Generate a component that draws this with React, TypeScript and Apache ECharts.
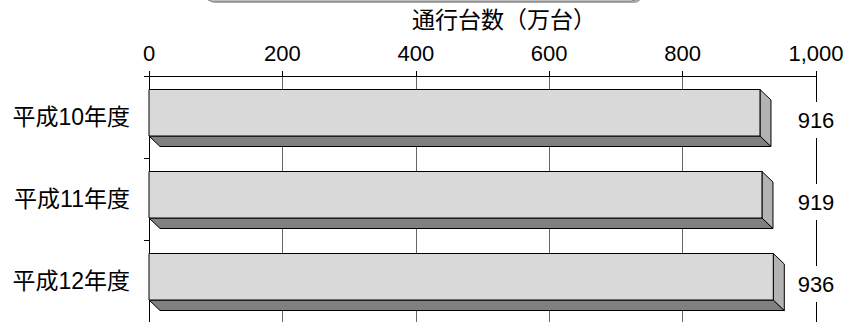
import React, { useEffect, useRef } from "react";
import * as echarts from "echarts";

const categories = ["平成10年度", "平成11年度", "平成12年度"];
const values = [916, 919, 936];
const axisMin = 0;
const axisMax = 1000;
const axisInterval = 200;
const axisTitle = "通行台数（万台）";

const FONT = "'Liberation Sans', 'Noto Sans CJK JP', Arial, sans-serif";

export default function App() {
  const ref = useRef<HTMLDivElement>(null);
  useEffect(() => {
    document.body.style.margin = "0";
    const chart = echarts.init(ref.current!, null, { renderer: "svg" });
    const data = values.map((v, i) => [v, i]);
    chart.setOption({
      animation: false,
      backgroundColor: "#ffffff",
      grid: { left: 149, top: 76, width: 667, height: 248, containLabel: false },
      graphic: [
        {
          type: "rect",
          shape: { x: 207, y: -30, width: 435, height: 33, r: 8 },
          style: { fill: "#a8a8a8" },
          z: 1,
        },
        {
          type: "rect",
          shape: { x: 204, y: -32, width: 435, height: 33, r: 8 },
          style: { fill: "#ffffff", stroke: "#7f7f7f", lineWidth: 1 },
          z: 2,
        },
        {
          type: "text",
          x: 504,
          y: 20,
          style: {
            text: axisTitle,
            font: `23px ${FONT}`,
            fill: "#000",
            align: "center",
            verticalAlign: "middle",
          },
        },
      ],
      xAxis: {
        type: "value",
        position: "top",
        min: axisMin,
        max: axisMax,
        interval: axisInterval,
        axisLine: { show: true, lineStyle: { color: "#000", width: 1 } },
        axisTick: { show: true, length: 5, inside: false, lineStyle: { color: "#000" } },
        axisLabel: {
          margin: 12,
          fontSize: 22,
          fontFamily: FONT,
          color: "#000",
          formatter: (v: number) => v.toLocaleString("en-US"),
        },
        splitLine: {
          show: true,
          lineStyle: { color: ["#000", "#666", "#666", "#666", "#666", "#000"], width: 1 },
        },
      },
      yAxis: {
        type: "category",
        data: categories,
        inverse: true,
        axisLine: { show: true, lineStyle: { color: "#000", width: 1 } },
        axisTick: { show: true, length: 5, inside: false, lineStyle: { color: "#000" } },
        axisLabel: {
          margin: 19,
          fontSize: 23,
          fontFamily: FONT,
          color: "#000",
          padding: [9, 0, 0, 0],
        },
        splitLine: { show: false },
      },
      series: [
        {
          type: "custom",
          encode: { x: 0, y: 1 },
          data,
          clip: false,
          renderItem: (params: any, api: any) => {
            const v = api.value(0);
            const ci = api.value(1);
            const start = api.coord([axisMin, ci]);
            const end = api.coord([v, ci]);
            const edge = api.coord([axisMax, ci]);
            const c = start[1];
            const top = c - 27.5;
            const bot = c + 19;
            const dx = 11;
            const dy = 10.5;
            const x0 = start[0];
            const x1 = end[0];
            const ly = c + 3;
            return {
              type: "group",
              children: [
                {
                  type: "polygon",
                  shape: {
                    points: [
                      [x0, bot],
                      [x1, bot],
                      [x1 + dx, bot + dy],
                      [x0 + dx, bot + dy],
                    ],
                  },
                  style: { fill: "#808080", stroke: "#000", lineWidth: 1 },
                },
                {
                  type: "polygon",
                  shape: {
                    points: [
                      [x1, top],
                      [x1 + dx, top + dy],
                      [x1 + dx, bot + dy],
                      [x1, bot],
                    ],
                  },
                  style: { fill: "#b3b3b3", stroke: "#000", lineWidth: 1 },
                },
                {
                  type: "rect",
                  shape: { x: x0, y: top, width: x1 - x0, height: bot - top },
                  style: { fill: "#d9d9d9", stroke: "#000", lineWidth: 1 },
                },
                {
                  type: "rect",
                  shape: { x: edge[0] - 22, y: ly - 18, width: 44, height: 36 },
                  style: { fill: "#ffffff" },
                },
                {
                  type: "text",
                  x: edge[0],
                  y: ly,
                  style: {
                    text: String(v),
                    font: `22px ${FONT}`,
                    fill: "#000",
                    align: "center",
                    verticalAlign: "middle",
                  },
                },
              ],
            };
          },
        },
      ],
    });
    return () => chart.dispose();
  }, []);
  return <div ref={ref} style={{ width: 848, height: 322 }} />;
}
